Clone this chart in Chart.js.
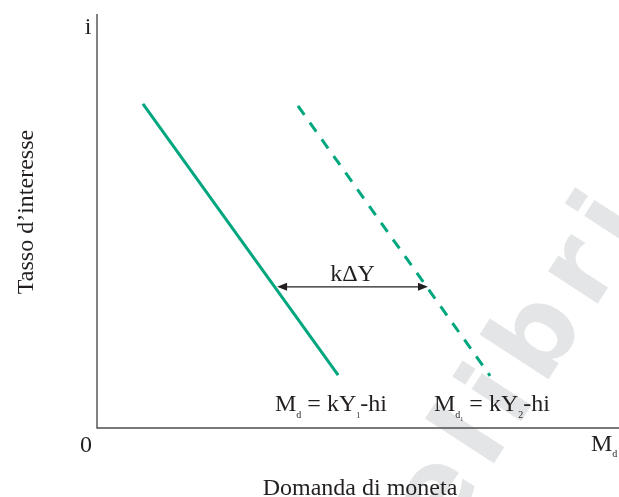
<!DOCTYPE html>
<html>
<head>
<meta charset="utf-8">
<script src="https://cdn.jsdelivr.net/npm/chart.js@4.4.0/dist/chart.umd.min.js"></script>
<style>
  html, body { margin: 0; padding: 0; background: #fff; }
  #wrap { width: 619px; height: 497px; }
</style>
</head>
<body>
<div id="wrap"><canvas id="chart"></canvas></div>
<script>
// money demand curves (x = quantity of money, y = interest rate), axis units 0..10
const curveY1 = [{ x: 0.88, y: 7.83 }, { x: 4.62, y: 1.28 }];
const curveY2 = [{ x: 3.85, y: 7.78 }, { x: 7.53, y: 1.26 }];
// horizontal shift arrow between the two curves
const shiftArrow = { y: 3.41, from: 3.45, to: 6.34, label: "kΔY" };

const xTitle = "Domanda di moneta";
const yTitle = "Tasso d’interesse";

const green = "#00a67e";
const ink = "#231f20";
const serif = "'Liberation Serif', 'DejaVu Serif', serif";

// draws a line of text made of pieces with their own size and baseline shift
function drawRuns(ctx, x, y, runs) {
    let cx = x;
    runs.forEach(r => {
        ctx.font = r.size + "px " + serif;
        ctx.fillText(r.t, cx, y + (r.dy || 0));
        cx += ctx.measureText(r.t).width;
    });
}

const decorations = {
    id: "decorations",
    beforeDatasetsDraw(chart) {
        const ctx = chart.ctx;
        // faint watermark, one letter at a time with extra spacing
        ctx.save();
        ctx.translate(442, 543);
        ctx.rotate(-57 * Math.PI / 180);
        ctx.fillStyle = "#e4e5e6";
        ctx.font = "bold 108px 'DejaVu Sans', sans-serif";
        let wx = 0;
        for (const ch of "elibri") {
            ctx.fillText(ch, wx, 0);
            wx += ctx.measureText(ch).width + 13;
        }
        ctx.restore();
    },
    afterDraw(chart) {
        const ctx = chart.ctx;
        const area = chart.chartArea;
        const xs = chart.scales.x, ys = chart.scales.y;
        ctx.save();

        // axes
        ctx.strokeStyle = "#4d4d4d";
        ctx.lineWidth = 1.4;
        ctx.beginPath();
        ctx.moveTo(area.left, area.top);
        ctx.lineTo(area.left, area.bottom);
        ctx.lineTo(area.right, area.bottom);
        ctx.stroke();

        ctx.fillStyle = ink;
        ctx.textBaseline = "alphabetic";

        // axis end labels
        ctx.textAlign = "center";
        ctx.font = "24px " + serif;
        ctx.fillText("i", area.left - 9, area.top + 20);
        ctx.fillText("0", area.left - 11, area.bottom + 24);
        ctx.textAlign = "left";
        drawRuns(ctx, area.right - 28, area.bottom + 23, [
            { t: "M", size: 24 }, { t: "d", size: 10, dy: 6 }
        ]);

        // axis titles
        ctx.textAlign = "center";
        ctx.font = "24px " + serif;
        ctx.fillText(xTitle, 360, 495);
        ctx.save();
        ctx.translate(33, 212);
        ctx.rotate(-Math.PI / 2);
        ctx.font = "24px " + serif;
        ctx.fillText(yTitle, 0, 0);
        ctx.restore();

        // shift arrow
        const ay = ys.getPixelForValue(shiftArrow.y);
        const ax1 = xs.getPixelForValue(shiftArrow.from);
        const ax2 = xs.getPixelForValue(shiftArrow.to);
        ctx.strokeStyle = ink;
        ctx.lineWidth = 1.2;
        ctx.beginPath();
        ctx.moveTo(ax1 + 6, ay);
        ctx.lineTo(ax2 - 6, ay);
        ctx.stroke();
        ctx.beginPath();
        ctx.moveTo(ax1, ay);
        ctx.lineTo(ax1 + 10, ay - 4);
        ctx.lineTo(ax1 + 10, ay + 4);
        ctx.closePath();
        ctx.moveTo(ax2, ay);
        ctx.lineTo(ax2 - 10, ay - 4);
        ctx.lineTo(ax2 - 10, ay + 4);
        ctx.closePath();
        ctx.fill();
        ctx.font = "24px " + serif;
        ctx.fillText(shiftArrow.label, (ax1 + ax2) / 2, ay - 6);

        // curve labels
        ctx.textAlign = "left";
        drawRuns(ctx, 275, 411, [
            { t: "M", size: 24 }, { t: "d", size: 10, dy: 7 },
            { t: " = kY", size: 24 }, { t: "1", size: 8, dy: 7 },
            { t: "-hi", size: 24 }
        ]);
        drawRuns(ctx, 434, 411, [
            { t: "M", size: 24 }, { t: "d", size: 10, dy: 7 },
            { t: "1", size: 6, dy: 10 },
            { t: " = kY", size: 24 }, { t: "2", size: 10, dy: 7 },
            { t: "-hi", size: 24 }
        ]);

        ctx.restore();
    }
};

new Chart(document.getElementById("chart"), {
    type: "scatter",
    data: {
        datasets: [
            {
                data: curveY1,
                showLine: true,
                borderColor: green,
                borderWidth: 3,
                pointRadius: 0
            },
            {
                data: curveY2,
                showLine: true,
                borderColor: green,
                borderWidth: 3,
                borderDash: [11, 9.5],
                pointRadius: 0
            }
        ]
    },
    options: {
        responsive: true,
        maintainAspectRatio: false,
        animation: false,
        layout: { padding: { left: 97, right: 0, top: 14, bottom: 69 } },
        plugins: {
            legend: { display: false },
            tooltip: { enabled: false }
        },
        scales: {
            x: { type: "linear", min: 0, max: 10, display: false },
            y: { type: "linear", min: 0, max: 10, display: false }
        }
    },
    plugins: [decorations]
});
</script>
</body>
</html>
